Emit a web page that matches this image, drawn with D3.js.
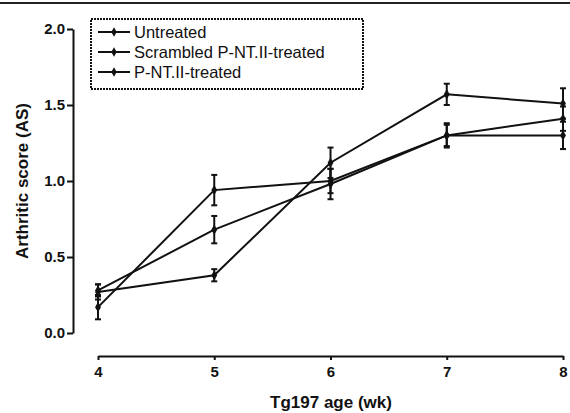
<!DOCTYPE html>
<html>
<head>
<meta charset="utf-8">
<script src="https://cdn.jsdelivr.net/npm/d3@7"></script>
<style>
    body { margin: 0; background: #fff; }
    svg { display: block; font-family: "Liberation Sans", Arial, sans-serif; }
    .axis path, .axis line { stroke: #111; stroke-width: 2; }
    .axis text { font-size: 15px; font-weight: bold; fill: #111; }
    .ttl { font-size: 17px; font-weight: bold; fill: #111; }
    .leg text { font-size: 16.5px; fill: #111; }
</style>
</head>
<body>
<div id="chart"></div>
<script>
// weeks on the x axis
var weeks = [4, 5, 6, 7, 8];
var yTicks = [0, 0.5, 1.0, 1.5, 2.0];
var seriesNames = ['Untreated', 'Scrambled P-NT.II-treated', 'P-NT.II-treated'];

// mean arthritic score per week
var untreated = [0.17, 0.94, 1.00, 1.30, 1.41];
var scrambled = [0.28, 0.68, 0.98, 1.30, 1.30];
var pntTreated = [0.27, 0.38, 1.12, 1.57, 1.51];

// +/- error bar half heights
var untreatedErr = [0.08, 0.10, 0.08, 0.07, 0.08];
var scrambledErr = [0.04, 0.09, 0.10, 0.08, 0.09];
var pntTreatedErr = [0.05, 0.04, 0.10, 0.07, 0.10];

(function () {
    var W = 570, H = 413;
    var series = [
        {name: seriesNames[0], vals: untreated, err: untreatedErr},
        {name: seriesNames[1], vals: scrambled, err: scrambledErr},
        {name: seriesNames[2], vals: pntTreated, err: pntTreatedErr}
    ];

    var svg = d3.select('#chart').append('svg')
        .attr('width', W)
        .attr('height', H);

    var x = d3.scaleLinear().domain([4, 8]).range([98, 563]);
    var y = d3.scaleLinear().domain([0, 2]).range([333, 29]);

    // scanned page edge at the top
    svg.append('line')
        .attr('x1', 0).attr('x2', W)
        .attr('y1', 3).attr('y2', 3)
        .attr('stroke', '#222').attr('stroke-width', 2);

    svg.append('g')
        .attr('class', 'axis')
        .attr('transform', 'translate(73,0)')
        .call(d3.axisLeft(y).tickValues(yTicks).tickFormat(d3.format('.1f')).tickSize(6).tickSizeOuter(0).tickPadding(2));

    svg.append('g')
        .attr('class', 'axis')
        .attr('transform', 'translate(0,356)')
        .call(d3.axisBottom(x).tickValues(weeks).tickFormat(d3.format('d')).tickSize(4).tickSizeOuter(0).tickPadding(6));

    svg.append('text')
        .attr('class', 'ttl')
        .attr('x', 331).attr('y', 408)
        .attr('text-anchor', 'middle')
        .text('Tg197 age (wk)');

    svg.append('text')
        .attr('class', 'ttl')
        .attr('transform', 'translate(28,181) rotate(-90)')
        .attr('text-anchor', 'middle')
        .text('Arthritic score (AS)');

    var line = d3.line()
        .x(function (d, i) { return x(weeks[i]); })
        .y(function (d) { return y(d); });

    series.forEach(function (s) {
        var g = svg.append('g');
        g.append('path')
            .attr('d', line(s.vals))
            .attr('fill', 'none')
            .attr('stroke', '#111')
            .attr('stroke-width', 2);

        s.vals.forEach(function (v, i) {
            var cx = x(weeks[i]);
            var top = y(v + s.err[i]), bot = y(v - s.err[i]);
            g.append('line')
                .attr('x1', cx).attr('x2', cx).attr('y1', top).attr('y2', bot)
                .attr('stroke', '#111').attr('stroke-width', 2);
            [top, bot].forEach(function (cy) {
                g.append('line')
                    .attr('x1', cx - 3).attr('x2', cx + 3).attr('y1', cy).attr('y2', cy)
                    .attr('stroke', '#111').attr('stroke-width', 2);
            });
            g.append('path')
                .attr('d', d3.symbol().type(d3.symbolDiamond).size(30)())
                .attr('transform', 'translate(' + cx + ',' + y(v) + ')')
                .attr('fill', '#111');
        });
    });

    // legend
    var leg = svg.append('g').attr('class', 'leg');
    leg.append('rect')
        .attr('x', 91).attr('y', 19)
        .attr('width', 272).attr('height', 70)
        .attr('fill', 'none')
        .attr('stroke', '#111')
        .attr('stroke-width', 2)
        .attr('stroke-dasharray', '2,1');

    series.forEach(function (s, i) {
        var ly = 32 + i * 20;
        leg.append('line')
            .attr('x1', 98).attr('x2', 130).attr('y1', ly).attr('y2', ly)
            .attr('stroke', '#111').attr('stroke-width', 2);
        leg.append('path')
            .attr('d', d3.symbol().type(d3.symbolDiamond).size(26)())
            .attr('transform', 'translate(114,' + ly + ')')
            .attr('fill', '#111');
        leg.append('text')
            .attr('x', 134).attr('y', ly + 6)
            .text(s.name);
    });
})();
</script>
</body>
</html>
